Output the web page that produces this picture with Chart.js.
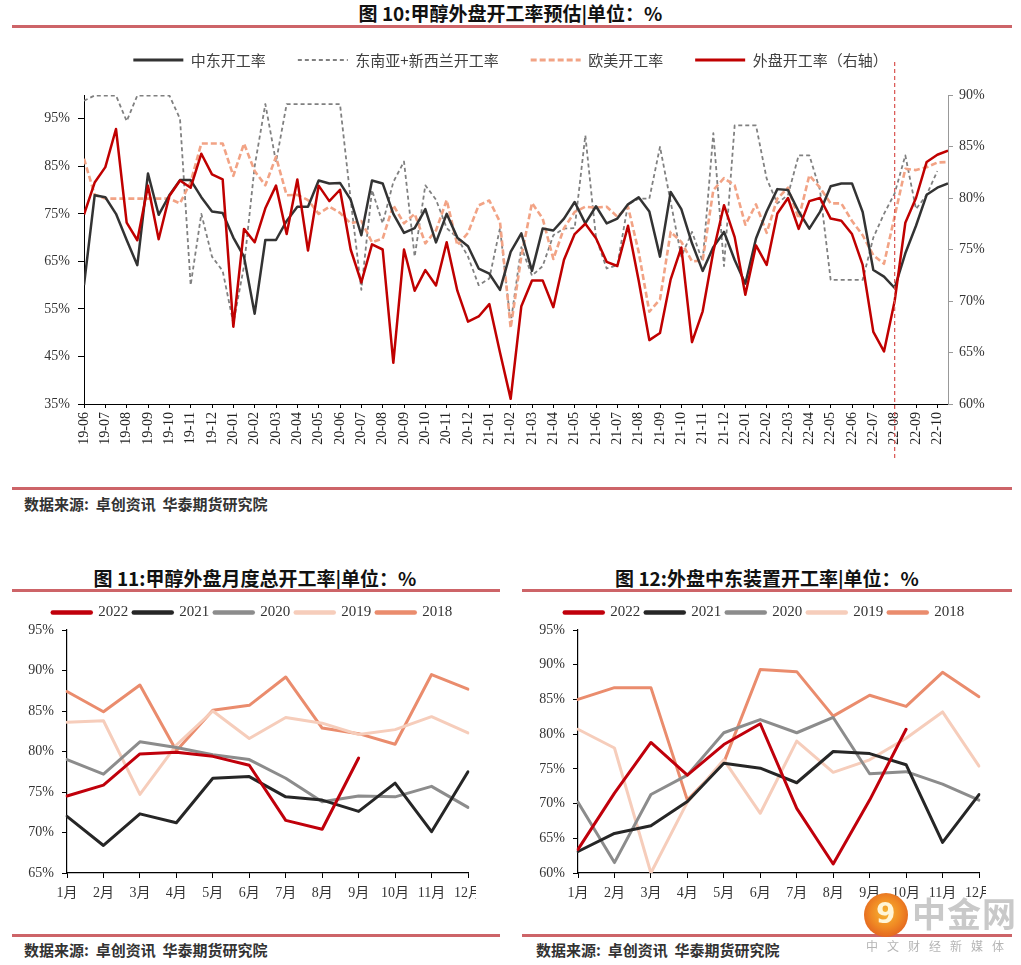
<!DOCTYPE html>
<html><head><meta charset="utf-8">
<script src="https://cdn.jsdelivr.net/npm/chart.js@4.4.1/dist/chart.umd.min.js"></script>
<style>
html,body{margin:0;padding:0;background:#fff;}
body{width:1021px;height:965px;position:relative;overflow:hidden;font-family:"Noto Sans CJK SC",sans-serif;}
.t{position:absolute;font-weight:700;color:#111;text-align:center;white-space:nowrap;font-size:19px;line-height:24px;}
.r{position:absolute;height:3px;background:#cd6468;}
.s{position:absolute;font-size:15px;font-weight:700;color:#333;white-space:nowrap;line-height:20px;}
.box{position:absolute;}
</style></head><body>

<div class="t" style="left:0;top:1px;width:1021px;">图 10:甲醇外盘开工率预估|单位：%</div>
<div class="r" style="left:12px;top:25px;width:1000px;"></div>
<div class="box" style="left:0;top:20px;width:1021px;height:460px;"><canvas id="c1" width="1021" height="460"></canvas></div>
<div class="r" style="left:12px;top:487px;width:1000px;"></div>
<div class="s" style="left:24px;top:494px;">数据来源:&nbsp;&nbsp;卓创资讯&nbsp;&nbsp;华泰期货研究院</div>

<div class="t" style="left:10px;top:566px;width:490px;">图 11:甲醇外盘月度总开工率|单位：%</div>
<div class="r" style="left:12px;top:589px;width:488px;"></div>
<div class="box" style="left:0;top:595px;width:476px;height:312px;overflow:hidden;"><canvas id="c2" width="476" height="312"></canvas></div>
<div class="r" style="left:12px;top:934px;width:488px;"></div>
<div class="s" style="left:24px;top:940px;">数据来源:&nbsp;&nbsp;卓创资讯&nbsp;&nbsp;华泰期货研究院</div>

<div class="t" style="left:522px;top:566px;width:490px;">图 12:外盘中东装置开工率|单位：%</div>
<div class="r" style="left:522px;top:589px;width:490px;"></div>
<div class="box" style="left:510px;top:595px;width:476px;height:312px;overflow:hidden;"><canvas id="c3" width="476" height="312"></canvas></div>
<div class="r" style="left:522px;top:934px;width:490px;"></div>
<div class="s" style="left:536px;top:940px;">数据来源:&nbsp;&nbsp;卓创资讯&nbsp;&nbsp;华泰期货研究院</div>

<div style="position:absolute;left:864px;top:893px;width:44px;height:44px;border-radius:50%;background:radial-gradient(circle at 50% 45%,#f7b733 0%,#f08a24 45%,#d9481c 100%);"></div>
<div style="position:absolute;left:876px;top:896px;color:#fff6d8;font:bold 28px 'DejaVu Sans';line-height:36px;">9</div>
<div style="position:absolute;left:912px;top:893px;color:#c9c9c9;font-weight:700;font-size:34px;line-height:40px;letter-spacing:1px;">中金网</div>
<div style="position:absolute;left:866px;top:938px;color:#b5b5b5;font-size:12px;letter-spacing:9px;line-height:16px;">中文财经新媒体</div>

<script>
// ---------- Figure 10 (weekly, sampled twice a month) ----------
const monthTicks = ['19-06','19-07','19-08','19-09','19-10','19-11','19-12',
  '20-01','20-02','20-03','20-04','20-05','20-06','20-07','20-08','20-09','20-10','20-11','20-12',
  '21-01','21-02','21-03','21-04','21-05','21-06','21-07','21-08','21-09','21-10','21-11','21-12',
  '22-01','22-02','22-03','22-04','22-05','22-06','22-07','22-08','22-09','22-10'];
const leftTicks = [35,45,55,65,75,85,95];
const rightTicks = [60,65,70,75,80,85,90];
const forecastMonth = '22-08';

// 中东开工率 (left axis)
const middleEast = [60,78.9,78.5,75,69.5,64.2,83.5,74.8,78.9,82.1,
  82.1,78.5,75.5,75.2,70,66,54,69.5,69.5,73.5,
  76.5,76.5,82,81.4,81.5,78,70.5,82,81.4,75,
  71,72,76,69,75,70,68.2,63.5,62.4,59,
  67,70.9,63,71.9,71.5,74,77.5,73,76.6,73,
  74,77,78.5,75.5,66,79.6,76,68.8,63,68,
  71.2,65.3,60.3,69.8,75.5,80.2,80,75.5,71.9,75.4,
  80.8,81.4,81.4,75.4,63.2,61.8,59.4,66.7,72.5,79,
  80.5,81.4];
// 东南亚+新西兰开工率 (left axis)
const seAsiaNz = [98.8,99.9,99.9,99.9,94.5,99.9,99.9,99.9,99.9,95,
  60,75,66,63,52,64,85,98.1,85.9,98.1,
  98.1,98.1,98.1,98.1,98.1,78,59,80,73,81.7,
  86,66,81,78,72,70,66,60,61.4,72,
  52,68,62,64,70.5,71.9,72,91.5,70,63.5,
  64.2,77,78.2,78.2,89.1,77.5,66,71.2,65,92,
  64,93.6,93.6,93.6,82.4,77.2,79,87.3,87.3,80,
  61.1,61.1,61.1,61.1,70,75,79.3,87.3,76,79,
  84,null];
// 欧美开工率 (left axis)
const euroAmerica = [86.6,79,78.2,78.2,78.2,78.2,78.2,78.2,78.2,77.2,
  81.7,89.8,89.8,89.8,83,89.8,84,81,87,78.9,
  79,77.9,75,76.5,75.2,73,73.5,69,69.8,76.8,
  73,75,68.8,71.5,77.9,68.4,71,76.8,77.8,73.3,
  51,66,77.3,74,65.5,72,75.4,76.5,76.3,76.5,
  74.4,76.5,67,54.4,57,71.2,69.1,65,65.2,80,
  82.5,81,72.7,77,71,78.2,80.5,74,83.1,80.5,
  77.2,77.2,73.5,70.5,66.3,64.5,74.5,84.5,84.2,84.8,
  85.8,85.9];
// 外盘开工率 (right axis)
const overseasTotal = [78.4,81.5,83,86.7,77.6,75.9,81.2,76,80.2,81.7,
  81,84.3,82.3,81.8,67.5,77,75.7,79,81.2,76.5,
  81.8,74.9,81.2,79.7,80.8,75,71.8,75.5,75,64,
  75,71,73,71.5,75.7,71,68,68.5,69.7,65,
  60.5,69.5,72,72,69.4,74,76.5,77.5,76.1,73.8,
  73.4,77.3,72,66.2,66.9,72.1,75.2,66,69,74.8,
  79.3,76.2,70.6,75.4,73.5,78.5,80,77,79.7,80,
  78,77.8,76.5,73.5,67,65.1,70,77.6,80,83.5,
  84.2,84.6];
// sample positions, in months after 19-06 (two samples per month)
const samplePos = [];
for (let i = 0; i < middleEast.length; i++) samplePos.push(i / 2);

// ---------- Figures 11 & 12 (monthly) ----------
const months = ['1月','2月','3月','4月','5月','6月','7月','8月','9月','10月','11月','12月'];
const years = ['2022','2021','2020','2019','2018'];
const totalByYear = {
  '2022':[74.5,75.85,79.7,79.9,79.4,78.3,71.5,70.4,79.2],
  '2021':[72.0,68.4,72.3,71.2,76.7,76.9,74.4,74.0,72.6,76.1,70.1,77.5],
  '2020':[79.0,77.2,81.2,80.5,79.6,79.0,76.7,73.8,74.5,74.4,75.7,73.1],
  '2019':[83.6,83.8,74.7,80.8,85.0,81.6,84.2,83.5,82.1,82.7,84.3,82.3],
  '2018':[87.4,84.9,88.2,80.1,85.1,85.7,89.2,82.9,82.2,80.9,89.5,87.7]
};
const meByYear = {
  '2022':[63.4,71.5,78.8,74.1,78.5,81.5,69.3,61.3,70.5,80.7],
  '2021':[63.1,65.7,66.8,70.3,75.8,75.1,73.0,77.5,77.2,75.6,64.4,71.3],
  '2020':[70.2,61.5,71.3,74.1,80.2,82.1,80.2,82.4,74.3,74.6,72.8,70.5],
  '2019':[80.7,78.0,60.0,70.2,76.3,68.6,79.0,74.5,76.3,79.4,83.2,75.4],
  '2018':[85.0,86.7,86.7,70.5,75.9,89.3,89.0,82.6,85.6,84.0,88.9,85.4]
};
const ticks11 = [65,70,75,80,85,90,95];
const ticks12 = [60,65,70,75,80,85,90,95];

const yearColors = {'2022':'#c0000b','2021':'#262626','2020':'#8c8c8c','2019':'#f6cdbb','2018':'#ea8c6d'};
const serif = "'Liberation Serif','Noto Sans CJK SC',serif";
const cjk = "'Noto Sans CJK SC',sans-serif";

const forecastLine = {
  id: 'forecastLine',
  afterDatasetsDraw(chart) {
    const xs = chart.scales.x;
    const x = xs.getPixelForValue(monthTicks.indexOf(forecastMonth));
    const ctx = chart.ctx;
    ctx.save();
    ctx.strokeStyle = '#d9534f';
    ctx.lineWidth = 1.2;
    ctx.setLineDash([4, 3]);
    ctx.beginPath();
    ctx.moveTo(x, chart.chartArea.top - 33);
    ctx.lineTo(x, chart.chartArea.bottom + 56);
    ctx.stroke();
    ctx.restore();
  }
};

// shift a legend horizontally (to centre it over the whole figure rather than the canvas)
const legendShift = {
  id: 'legendShift',
  afterLayout(chart, args, opts) {
    const l = chart.legend;
    if (l && opts && opts.dx) { l.left += opts.dx; l.right += opts.dx; }
  }
};

// legend lines that copy the dataset's own line style
function lineLegendLabels(chart) {
  return Chart.defaults.plugins.legend.labels.generateLabels(chart).map(l => {
    const ds = chart.data.datasets[l.datasetIndex];
    return Object.assign(l, {lineDash: ds.borderDash || [], lineWidth: ds.legendWidth || ds.borderWidth,
      strokeStyle: ds.borderColor, lineCap: ds.borderCapStyle || 'butt'});
  });
}

new Chart(document.getElementById('c1'), {
  type: 'line',
  data: {
    labels: samplePos,
    datasets: [
      {label:'中东开工率', data: middleEast, borderColor:'#333333', backgroundColor:'#333333', borderWidth:2.5, legendWidth:3, yAxisID:'yL', order:1},
      {label:'东南亚+新西兰开工率', data: seAsiaNz, borderColor:'#808080', backgroundColor:'#808080', borderWidth:1.8, borderDash:[4,3], yAxisID:'yL', order:3},
      {label:'欧美开工率', data: euroAmerica, borderColor:'#f2a385', backgroundColor:'#f2a385', borderWidth:2.6, legendWidth:3, borderDash:[6,3], yAxisID:'yL', order:2},
      {label:'外盘开工率（右轴）', data: overseasTotal, borderColor:'#c00000', backgroundColor:'#c00000', borderWidth:2.5, legendWidth:3, yAxisID:'yR', order:0}
    ]
  },
  options: {
    responsive:false, animation:false,
    layout:{padding:{left:10,right:10,top:0.5,bottom:0}},
    elements:{point:{radius:0}, line:{tension:0, borderJoinStyle:'round'}},
    plugins:{
      legend:{position:'top', weight:3000, labels:{usePointStyle:true, pointStyle:'line', pointStyleWidth:50, boxHeight:15, padding:32,
        color:'#404040', font:{family:cjk, size:15}, generateLabels: lineLegendLabels, sort:(a,b)=>a.datasetIndex-b.datasetIndex}},
      title:{display:true, text:'', font:{size:1, lineHeight:1}, padding:{top:0,bottom:16.5}},
      tooltip:{enabled:false}
    },
    scales:{
      x:{type:'linear', min:0, max:40.5,
        afterBuildTicks:(s)=>{ s.ticks = monthTicks.map((_, i) => ({value:i})); },
        afterFit:(s)=>{ s.height = 76; s.paddingLeft = 0; s.paddingRight = 0; },
        ticks:{autoSkip:false, minRotation:90, maxRotation:90, padding:4, color:'#222', font:{family:serif, size:14},
          callback:(v)=>monthTicks[v]},
        grid:{display:true, drawOnChartArea:false, drawTicks:true, tickLength:4, tickColor:'#000'},
        border:{display:true, color:'#000', width:1}
      },
      yL:{position:'left', min:35, max:100,
        afterBuildTicks:(s)=>{ s.ticks = leftTicks.map(v => ({value:v})); },
        afterFit:(s)=>{ s.width = 74; s.paddingTop = 0; s.paddingBottom = 0; },
        ticks:{padding:8, color:'#333', font:{family:serif, size:14}, callback:(v)=>v+'%'},
        grid:{display:true, drawOnChartArea:false, drawTicks:true, tickLength:6, tickColor:'#000'},
        border:{display:true, color:'#000', width:1}
      },
      yR:{position:'right', min:60, max:90,
        afterBuildTicks:(s)=>{ s.ticks = rightTicks.map(v => ({value:v})); },
        afterFit:(s)=>{ s.width = 63; s.paddingTop = 0; s.paddingBottom = 0; },
        ticks:{padding:6, color:'#333', font:{family:serif, size:14}, callback:(v)=>v+'%'},
        grid:{display:true, drawOnChartArea:false, drawTicks:true, tickLength:5, tickColor:'#999'},
        border:{display:true, color:'#999', width:1}
      }
    }
  },
  plugins:[forecastLine]
});

function monthlyChart(id, byYear, yTicks, axisWidth, padRight, dx) {
  new Chart(document.getElementById(id), {
    type:'line',
    data:{
      labels: months,
      datasets: years.map(y => ({label:y, data:byYear[y], borderColor:yearColors[y], backgroundColor:yearColors[y], borderWidth:3, legendWidth:4.5, borderCapStyle:'round'}))
    },
    options:{
      responsive:false, animation:false,
      layout:{padding:{left:5,right:padRight,top:4.5,bottom:0}},
      elements:{point:{radius:0}, line:{tension:0, borderJoinStyle:'round'}},
      plugins:{
        legend:{position:'top', labels:{usePointStyle:true, pointStyle:'line', pointStyleWidth:38, boxHeight:15, padding:5.5, color:'#333', font:{family:serif, size:15},
          generateLabels: lineLegendLabels}},
        legendShift:{dx: dx},
        tooltip:{enabled:false}
      },
      scales:{
        x:{type:'category', offset:false,
          afterFit:(s)=>{ s.height = 34; s.paddingLeft = 0; s.paddingRight = 0; },
          ticks:{autoSkip:false, maxRotation:0, minRotation:0, padding:7, color:'#333', font:{family:serif, size:14}},
          grid:{display:true, drawOnChartArea:false, drawTicks:true, tickLength:5, tickColor:'#000'},
          border:{display:true, color:'#000', width:1.2}
        },
        y:{min:yTicks[0], max:yTicks[yTicks.length-1],
          afterBuildTicks:(s)=>{ s.ticks = yTicks.map(v => ({value:v})); },
          afterFit:(s)=>{ s.width = axisWidth; s.paddingTop = 0; s.paddingBottom = 0; },
          ticks:{padding:8, color:'#333', font:{family:serif, size:14}, callback:(v)=>v+'%'},
          grid:{display:true, drawOnChartArea:false, drawTicks:true, tickLength:5, tickColor:'#000'},
          border:{display:true, color:'#000', width:1.2}
        }
      }
    },
    plugins:[legendShift]
  });
}
monthlyChart('c2', totalByYear, ticks11, 62, 8, 16);
monthlyChart('c3', meByYear, ticks12, 63, 7, 17.5);
</script>
</body></html>
